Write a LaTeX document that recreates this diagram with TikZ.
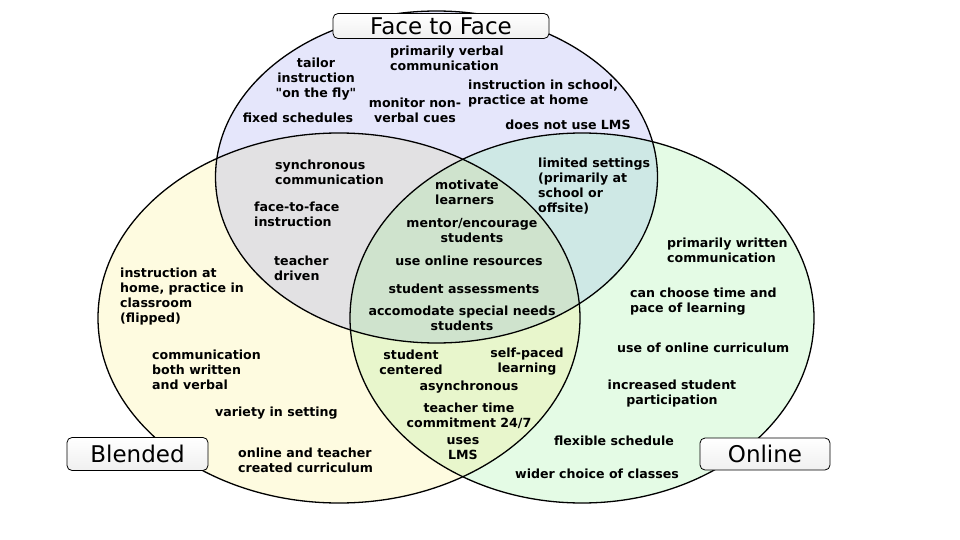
\documentclass[tikz,border=0pt]{standalone}
\usepackage{fontspec}
\setmainfont{DejaVu Sans}[Ligatures=TeXOff]
\usetikzlibrary{positioning}

\definecolor{ftfonly}{RGB}{229,230,251}
\definecolor{blendonly}{RGB}{254,251,224}
\definecolor{onlineonly}{RGB}{228,251,229}
\definecolor{ftfblend}{RGB}{226,225,227}
\definecolor{ftfonline}{RGB}{206,232,229}
\definecolor{blendonline}{RGB}{232,246,204}
\definecolor{allthree}{RGB}{207,227,205}

% the three sets
\newcommand\ftfset{(436.5,177) ellipse [x radius=221pt, y radius=166pt]}
\newcommand\blendset{(339,318) ellipse [x radius=241pt, y radius=185pt]}
\newcommand\onlineset{(582,318) ellipse [x radius=232pt, y radius=185pt]}

\begin{document}
\begin{tikzpicture}[x=1pt, y=-1pt,
  note/.style={font=\fontsize{12.6}{15}\selectfont\bfseries, inner sep=0pt,
               align=left, anchor=west},
  cnote/.style={note, align=center, anchor=center},
  setlabel/.style={draw, line width=0.8pt, rounded corners=5pt, inner sep=0pt,
                   top color=white, bottom color=gray!12,
                   font=\fontsize{23}{25}\selectfont},
  ring/.style={draw, line width=1.3pt},
]
  \useasboundingbox (0,0) rectangle (960,540);

  % fills
  \fill[blendonly] \blendset;
  \fill[onlineonly] \onlineset;
  \fill[ftfonly] \ftfset;
  \begin{scope}
    \clip \ftfset;
    \fill[ftfblend] \blendset;
  \end{scope}
  \begin{scope}
    \clip \ftfset;
    \fill[ftfonline] \onlineset;
  \end{scope}
  \begin{scope}
    \clip \blendset;
    \fill[blendonline] \onlineset;
  \end{scope}
  \begin{scope}
    \clip \ftfset;
    \clip \blendset;
    \fill[allthree] \onlineset;
  \end{scope}

  % outlines
  \draw[ring] \ftfset;
  \draw[ring] \blendset;
  \draw[ring] \onlineset;

  % face to face only
  \node[note] (verbal) at (390,58) {primarily verbal\\communication};
  \node[cnote] (tailor) at (316,79) {tailor\\instruction\\"on the fly"};
  \node[note] (inschool) at (468,94) {instruction in school,\\practice at home};
  \node[cnote] (nonverbal) at (415,110) {monitor non-\\verbal cues};
  \node[cnote] (fixed) at (298,118) {fixed schedules};
  \node[cnote] (nolms) at (568,125) {does not use LMS};

  % face to face and blended
  \node[note] (sync) at (275,172) {synchronous\\communication};
  \node[note] (facetoface) at (254,214) {face-to-face\\instruction};
  \node[note] (driven) at (274,268) {teacher\\driven};

  % blended only
  \node[note] (flipped) at (120,297) {instruction at\\home, practice in\\classroom\\(flipped)};
  \node[note] (both) at (152,370) {communication\\both written\\and verbal};
  \node[note] (variety) at (215,413) {variety in setting};
  \node[note] (created) at (238,460) {online and teacher\\created curriculum};

  % face to face and online
  \node[note] (limited) at (538,186) {limited settings\\(primarily at\\school or\\offsite)};

  % all three
  \node[note] (motivate) at (435,192) {motivate\\learners};
  \node[cnote] (mentor) at (472,230) {mentor/encourage\\students};
  \node[cnote] (resources) at (469,261) {use online resources};
  \node[cnote] (assess) at (464,289) {student assessments};
  \node[cnote] (special) at (462,318) {accomodate special needs\\students};

  % blended and online
  \node[cnote] (centered) at (411,362) {student\\centered};
  \node[cnote] (selfpaced) at (527,362) {self-paced\\learning};
  \node[cnote] (async) at (469,387) {asynchronous};
  \node[cnote] (commit) at (469,416) {teacher time\\commitment 24/7};
  \node[cnote] (lms) at (463,449) {uses\\LMS};

  % online only
  \node[note] (written) at (667,250) {primarily written\\communication};
  \node[note] (pace) at (630,302) {can choose time and\\pace of learning};
  \node[note] (curric) at (617,348) {use of online curriculum};
  \node[cnote] (particip) at (672,394) {increased student\\participation};
  \node[cnote] (flex) at (614,441) {flexible schedule};
  \node[cnote] (wider) at (597,474) {wider choice of classes};

  % set labels
  \node[setlabel, minimum width=216pt, minimum height=25pt] (ftf) at (441,26) {Face to Face};
  \node[setlabel, minimum width=141pt, minimum height=33pt] (blended) at (137.5,454) {Blended};
  \node[setlabel, minimum width=130pt, minimum height=32pt] (online) at (765,454) {Online};
\end{tikzpicture}
\end{document}
